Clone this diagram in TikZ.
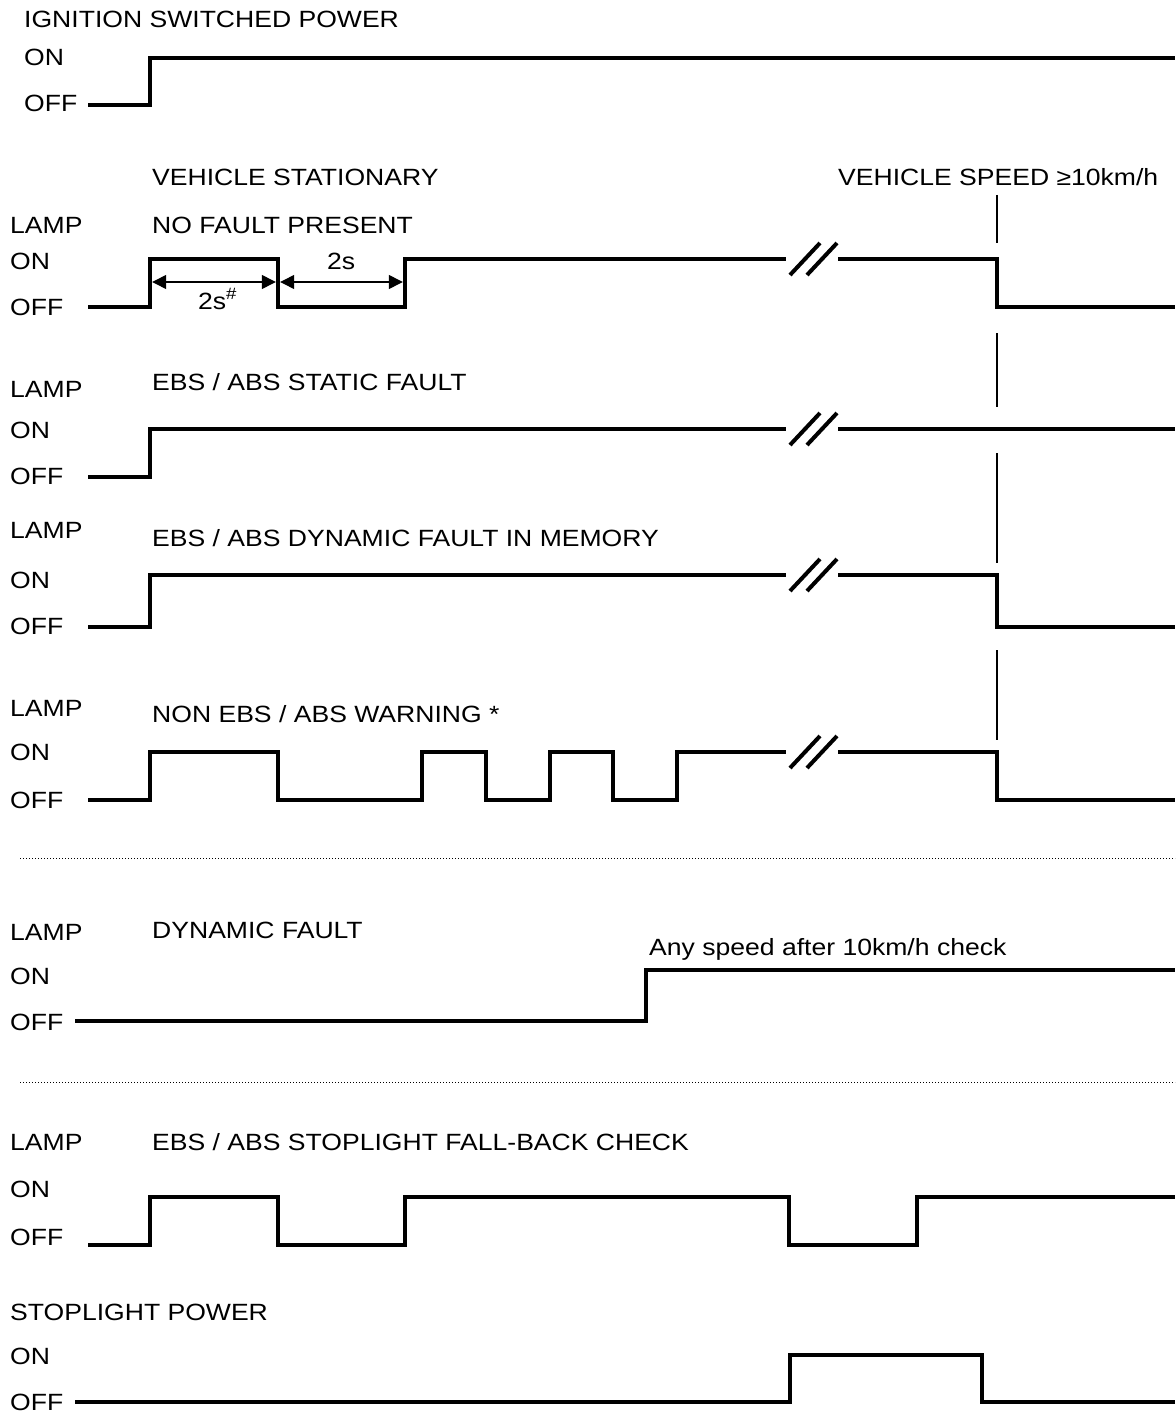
\documentclass[tikz,border=0pt]{standalone}
\usepackage{fontspec}
\setmainfont{Liberation Sans}[FakeStretch=1.13]
\usetikzlibrary{arrows.meta}

\tikzset{
  wave/.style={line width=4.5pt},
  lbl/.style={anchor=base west, inner sep=0pt, font=\fontsize{23.5}{28}\selectfont},
  tickline/.style={line width=1.3pt},
  sepline/.style={line width=1pt, dash pattern=on 1pt off 2pt},
  dimline/.style={line width=1.3pt, shorten <=2.2pt, shorten >=2.2pt,
    {Triangle[length=14pt,width=14pt]}-{Triangle[length=14pt,width=14pt]}},
  brk/.style={line width=4pt}
}

\begin{document}
\begin{tikzpicture}[x=1pt,y=-1pt]
  \useasboundingbox (0,0) rectangle (1175,1420);

  \node[lbl] (ign) at (24,28) {IGNITION SWITCHED POWER};
  \node[lbl] (ignon) at (24,66) {ON};
  \node[lbl] (ignoff) at (24,112) {OFF};
  \draw[wave] (88,105) -- (150,105) -- (150,58) -- (1175,58);

  \node[lbl] (stat) at (152,186) {VEHICLE STATIONARY};
  \node[lbl] (speed) at (838,186) {VEHICLE SPEED ≥10km/h};
  \node[lbl] (nflamp) at (10,234) {LAMP};
  \node[lbl] (nf) at (152,234) {NO FAULT PRESENT};
  \node[lbl] (nfon) at (10,270) {ON};
  \node[lbl] (nfoff) at (10,316) {OFF};
  \draw[wave] (88,307) -- (150,307) -- (150,259) -- (278,259) -- (278,307)
    -- (405,307) -- (405,259) -- (786,259);
  \draw[wave] (838,259) -- (997,259) -- (997,307) -- (1175,307);
  \coordinate (t0) at (150,282);
  \coordinate (t1) at (278,282);
  \coordinate (t2) at (405,282);
  \draw[dimline] (t0) -- (t1);
  \draw[dimline] (t1) -- (t2);
  \node[lbl] (dlo) at (198,309) {2s\textsuperscript{\#}};
  \node[lbl] (dhi) at (327,270) {2s};

  \node[lbl] (sflamp) at (10,397) {LAMP};
  \node[lbl] (sf) at (152,390) {EBS / ABS STATIC FAULT};
  \node[lbl] (sfon) at (10,438) {ON};
  \node[lbl] (sfoff) at (10,484) {OFF};
  \draw[wave] (88,477) -- (150,477) -- (150,429) -- (786,429);
  \draw[wave] (838,429) -- (1175,429);

  \node[lbl] (dmlamp) at (10,538) {LAMP};
  \node[lbl] (dm) at (152,546) {EBS / ABS DYNAMIC FAULT IN MEMORY};
  \node[lbl] (dmon) at (10,588) {ON};
  \node[lbl] (dmoff) at (10,634) {OFF};
  \draw[wave] (88,627) -- (150,627) -- (150,575) -- (786,575);
  \draw[wave] (838,575) -- (997,575) -- (997,627) -- (1175,627);

  \node[lbl] (nwlamp) at (10,716) {LAMP};
  \node[lbl] (nw) at (152,722) {NON EBS / ABS WARNING *};
  \node[lbl] (nwon) at (10,760) {ON};
  \node[lbl] (nwoff) at (10,808) {OFF};
  \draw[wave] (88,800) -- (150,800) -- (150,752) -- (278,752) -- (278,800)
    -- (422,800) -- (422,752) -- (486,752) -- (486,800) -- (550,800)
    -- (550,752) -- (613,752) -- (613,800) -- (677,800) -- (677,752) -- (786,752);
  \draw[wave] (838,752) -- (997,752) -- (997,800) -- (1175,800);

  \foreach \y in {259,429,575,752}{
    \draw[brk] (790,\y+16) -- (820,\y-16);
    \draw[brk] (807,\y+16) -- (837,\y-16);
  }

  \draw[tickline] (997,195) -- (997,243);
  \draw[tickline] (997,333) -- (997,407);
  \draw[tickline] (997,453) -- (997,563);
  \draw[tickline] (997,650) -- (997,740);

  \draw[sepline] (20,858) -- (1175,858);

  \node[lbl] (dflamp) at (10,940) {LAMP};
  \node[lbl] (df) at (152,938) {DYNAMIC FAULT};
  \node[lbl] (any) at (649,955) {Any speed after 10km/h check};
  \node[lbl] (dfon) at (10,984) {ON};
  \node[lbl] (dfoff) at (10,1030) {OFF};
  \draw[wave] (75,1021) -- (646,1021) -- (646,970) -- (1175,970);

  \draw[sepline] (20,1082) -- (1175,1082);

  \node[lbl] (fblamp) at (10,1150) {LAMP};
  \node[lbl] (fb) at (152,1150) {EBS / ABS STOPLIGHT FALL-BACK CHECK};
  \node[lbl] (fbon) at (10,1197) {ON};
  \node[lbl] (fboff) at (10,1245) {OFF};
  \draw[wave] (88,1245) -- (150,1245) -- (150,1197) -- (278,1197) -- (278,1245)
    -- (405,1245) -- (405,1197) -- (789,1197) -- (789,1245) -- (917,1245)
    -- (917,1197) -- (1175,1197);

  \node[lbl] (sp) at (10,1320) {STOPLIGHT POWER};
  \node[lbl] (spon) at (10,1364) {ON};
  \node[lbl] (spoff) at (10,1410) {OFF};
  \draw[wave] (75,1402) -- (790,1402) -- (790,1355) -- (982,1355) -- (982,1402)
    -- (1175,1402);
\end{tikzpicture}
\end{document}
